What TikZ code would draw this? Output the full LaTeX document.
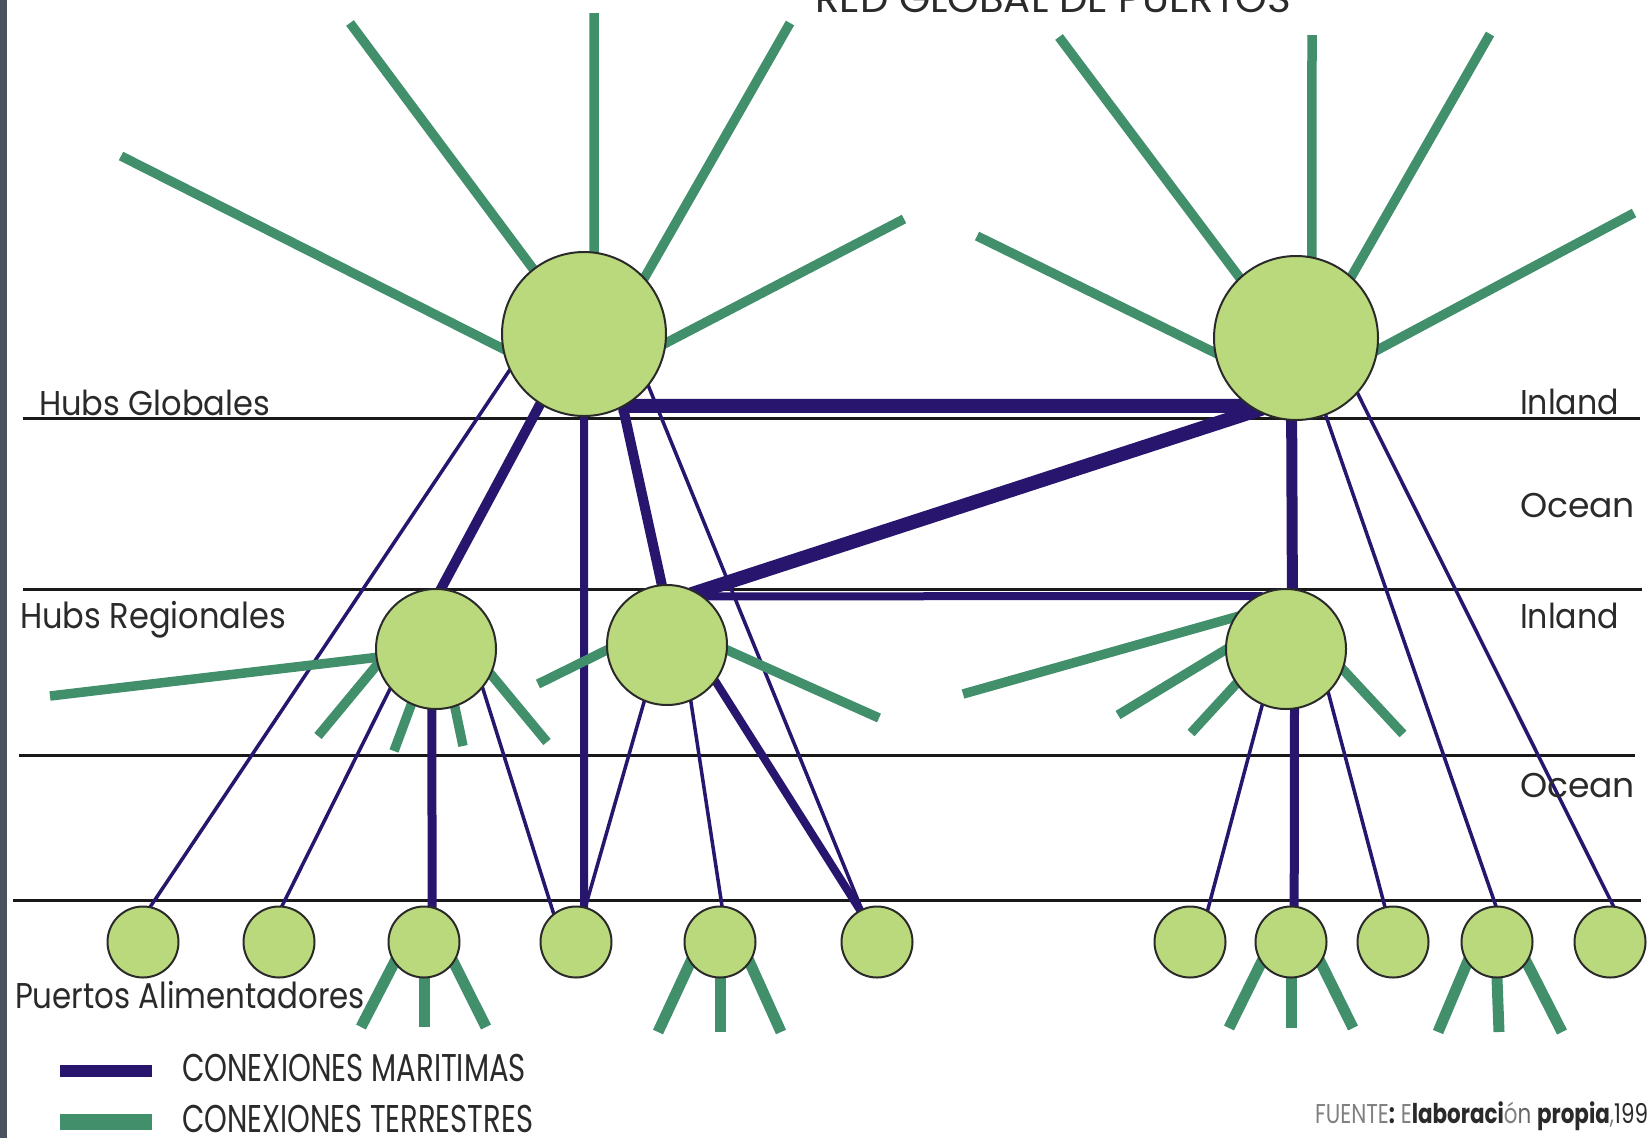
\documentclass[tikz,border=0pt]{standalone}
\usepackage{fontspec}
\setmainfont{Poppins}
\usepackage{graphicx}
\definecolor{sea}{HTML}{28166E}
\definecolor{land}{HTML}{428F6C}
\definecolor{port}{HTML}{B9D97C}
\definecolor{edgebar}{HTML}{4B525F}
\definecolor{ink}{HTML}{2A2A2A}
\pgfdeclarelayer{rules}
\pgfdeclarelayer{sealayer}
\pgfdeclarelayer{landlayer}
\pgfsetlayers{rules,sealayer,landlayer,main}
\newcommand\fitlbl[3]{\resizebox{#1pt}{#2pt}{\smash{#3}\rule{0pt}{\fontcharht\font`H}}}
\tikzset{
  hubG/.style={circle, draw=ink, line width=2pt, fill=port, minimum size=164pt, inner sep=0pt},
  hubR/.style={circle, draw=ink, line width=2pt, fill=port, minimum size=120pt, inner sep=0pt},
  feeder/.style={circle, draw=ink, line width=2pt, fill=port, minimum size=71pt, inner sep=0pt},
  maritime/.style={draw=sea, line width=#1, shorten <=-7pt, shorten >=-7pt},
  maritime/.default=3.5pt,
  terrestrial/.style={draw=land, line width=#1, shorten <=-7pt},
  terrestrial/.default=9.5pt,
  band/.style={draw=black!90, line width=3pt},
  lbl/.style={anchor=base west, inner sep=0pt, outer sep=0pt, text=ink},
}
\begin{document}
\begin{tikzpicture}[x=1pt,y=-1pt]
\useasboundingbox (0,0) rectangle (1648,1138);
% hubs
\node[hubG] (G1) at (584,334) {};
\node[hubG] (G2) at (1296,338) {};
\node[hubR] (R1) at (436,649) {};
\node[hubR] (R2) at (667,645) {};
\node[hubR] (R3) at (1286,649) {};
% feeders
\node[feeder] (F1) at (143,942) {};
\node[feeder] (F2) at (279,942) {};
\node[feeder] (F3) at (424,942) {};
\node[feeder] (F4) at (576,942) {};
\node[feeder] (F5) at (720,942) {};
\node[feeder] (F6) at (877,942) {};
\node[feeder] (F7) at (1190,942) {};
\node[feeder] (F8) at (1291,942) {};
\node[feeder] (F9) at (1393,942) {};
\node[feeder] (F10) at (1497,942) {};
\node[feeder] (F11) at (1610,942) {};
% free ends of land connections
\coordinate (g1a) at (121,156);
\coordinate (g1b) at (350,23);
\coordinate (g1c) at (594,13);
\coordinate (g1d) at (790,23);
\coordinate (g1e) at (904,219);
\coordinate (g2a) at (977,236);
\coordinate (g2b) at (1059,37);
\coordinate (g2c) at (1312,35);
\coordinate (g2d) at (1490,34);
\coordinate (g2e) at (1634,213);
\coordinate (r1a) at (50,696);
\coordinate (r1b) at (318,736);
\coordinate (r1c) at (394,751);
\coordinate (r1d) at (463,746);
\coordinate (r1e) at (547,742);
\coordinate (r2a) at (538,684);
\coordinate (r2b) at (879,718);
\coordinate (r3a) at (963,694);
\coordinate (r3b) at (1118,715);
\coordinate (r3c) at (1191,733);
\coordinate (r3d) at (1403,734);
\coordinate (f3a) at (361,1027);
\coordinate (f3b) at (424,1027);
\coordinate (f3c) at (486,1027);
\coordinate (f5a) at (658,1032);
\coordinate (f5b) at (720,1032);
\coordinate (f5c) at (781,1032);
\coordinate (f8a) at (1229,1028);
\coordinate (f8b) at (1291,1028);
\coordinate (f8c) at (1353,1028);
\coordinate (f10a) at (1438,1032);
\coordinate (f10b) at (1499,1032);
\coordinate (f10c) at (1562,1032);

\begin{pgfonlayer}{rules}
\fill[white] (0,0) rectangle (1648,1138);
\fill[edgebar] (0,0) rectangle (7,1138);
\draw[band] (23,418) -- (1640,418);
\draw[band] (23,589) -- (1642,589);
\draw[band] (19,755) -- (1635,755);
\draw[band] (13,900) -- (1641,900);
\end{pgfonlayer}

\begin{pgfonlayer}{sealayer}
\draw[maritime=14pt] (G1.-60) -- (G2.-125);
\draw[maritime=14pt] (G2.-119) -- (R2.60);
\draw[maritime=11pt] (G2.-93) -- (R3.84);
\draw[maritime=10pt] (G1.-122) -- (R1.85);
\draw[maritime=10pt] (G1.-62) -- (R2.95);
\draw[maritime=8pt] (G1.-90) -- (F4.77);
\draw[maritime=8pt] (R2.53) -- (R3.120);
\draw[maritime=9pt] (R1.-94) -- (F3.77);
\draw[maritime=8pt] (R2.-37) -- (F6.118);
\draw[maritime=9pt] (R3.-82) -- (F8.85);
\draw[maritime] (G1.-154) -- (F1.78);
\draw[maritime] (G1.-39) -- (F6.115);
\draw[maritime] (G2.-69) -- (F10.92);
\draw[maritime] (G2.-42) -- (F11.85);
\draw[maritime] (R1.-139) -- (F2.85);
\draw[maritime] (R1.-40) -- (F4.128);
\draw[maritime] (R2.-112) -- (F4.75);
\draw[maritime] (R2.-67) -- (F5.87);
\draw[maritime] (R3.-113) -- (F7.61);
\draw[maritime] (R3.-46) -- (F9.103);
\draw[draw=sea, line width=12pt] (60,1071) -- (152,1071);
\end{pgfonlayer}

\begin{pgfonlayer}{landlayer}
\draw[terrestrial] (G1.-170) -- (g1a);
\draw[terrestrial] (G1.128) -- (g1b);
\draw[terrestrial] (G1.83) -- (g1c);
\draw[terrestrial] (G1.43) -- (g1d);
\draw[terrestrial] (G1.-6) -- (g1e);
\draw[terrestrial] (G2.-170) -- (g2a);
\draw[terrestrial] (G2.133) -- (g2b);
\draw[terrestrial] (G2.79) -- (g2c);
\draw[terrestrial] (G2.48) -- (g2d);
\draw[terrestrial] (G2.-8) -- (g2e);
\draw[terrestrial] (R1.-172) -- (r1a);
\draw[terrestrial] (R1.-165) -- (r1b);
\draw[terrestrial] (R1.-114) -- (r1c);
\draw[terrestrial] (R1.-72) -- (r1d);
\draw[terrestrial] (R1.-25) -- (r1e);
\draw[terrestrial] (R2.185) -- (r2a);
\draw[terrestrial] (R2.-5) -- (r2b);
\draw[terrestrial] (R3.149) -- (r3a);
\draw[terrestrial] (R3.-179) -- (r3b);
\draw[terrestrial] (R3.-145) -- (r3c);
\draw[terrestrial] (R3.-20) -- (r3d);
\draw[terrestrial=11pt] (F3.-145) -- (f3a);
\draw[terrestrial=11pt] (F3.-90) -- (f3b);
\draw[terrestrial=11pt] (F3.-35) -- (f3c);
\draw[terrestrial=11pt] (F5.-145) -- (f5a);
\draw[terrestrial=11pt] (F5.-90) -- (f5b);
\draw[terrestrial=11pt] (F5.-35) -- (f5c);
\draw[terrestrial=11pt] (F8.-145) -- (f8a);
\draw[terrestrial=11pt] (F8.-90) -- (f8b);
\draw[terrestrial=11pt] (F8.-35) -- (f8c);
\draw[terrestrial=11pt] (F10.-145) -- (f10a);
\draw[terrestrial=11pt] (F10.-90) -- (f10b);
\draw[terrestrial=11pt] (F10.-35) -- (f10c);
\draw[draw=land, line width=16pt] (60,1122) -- (152,1122);
\end{pgfonlayer}

% labels
\node[lbl] (title) at (815,12) {\fitlbl{476}{27}{RED GLOBAL DE PUERTOS}};
\node[lbl] (hg) at (39,415) {\fitlbl{231}{24}{Hubs Globales}};
\node[lbl] (in1) at (1520,414) {\fitlbl{99}{24}{Inland}};
\node[lbl] (oc1) at (1520,517) {\fitlbl{115}{24}{Ocean}};
\node[lbl] (hr) at (20,628) {\fitlbl{266}{25}{Hubs Regionales}};
\node[lbl] (in2) at (1520,628) {\fitlbl{99}{24}{Inland}};
\node[lbl] (oc2) at (1520,797) {\fitlbl{115}{24}{Ocean}};
\node[lbl] (pa) at (15,1008) {\fitlbl{350}{25}{Puertos Alimentadores}};
\node[lbl] (lm) at (182,1081) {\fitlbl{344}{27}{CONEXIONES MARITIMAS}};
\node[lbl] (lt) at (182,1132) {\fitlbl{351}{27}{CONEXIONES TERRESTRES}};
\node[lbl] (src) at (1315,1123) {\fitlbl{333}{19}{{\color{gray}FUENTE}\textbf{:} {\color{gray}E}\textbf{laboraci}{\color{gray}ó}{\color{black!60}n} \textbf{propia}{\color{gray},}199}};
\end{tikzpicture}
\end{document}
